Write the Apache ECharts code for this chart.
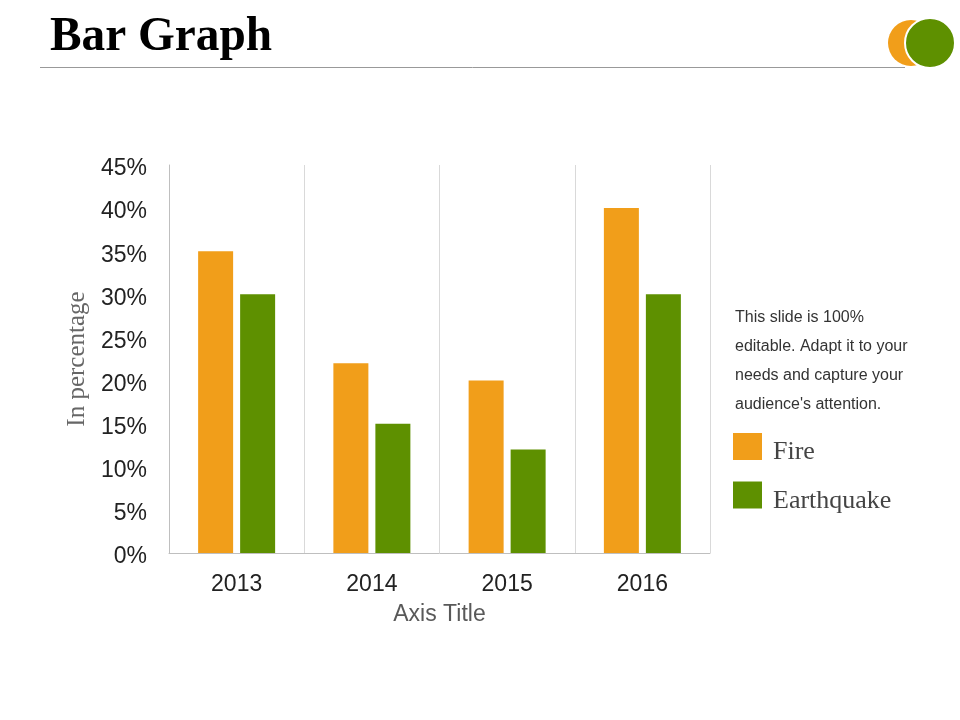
<!DOCTYPE html>
<html><head><meta charset="utf-8">
<script src="https://cdn.jsdelivr.net/npm/echarts@6/dist/echarts.min.js"></script>
<style>html,body{margin:0;padding:0;background:#fff}#c{width:960px;height:720px}</style>
</head><body><div id="c"></div>
<script>
const categories = ['2013', '2014', '2015', '2016'];
const fireValues = [35, 22, 20, 40];
const quakeValues = [30, 15, 12, 30];
const seriesNames = ['Fire', 'Earthquake'];
const titleText = 'Bar Graph';
const noteLines = ['This slide is 100%', 'editable. Adapt it to your', 'needs and capture your', "audience's attention."];

const chart = echarts.init(document.getElementById('c'));
const graphics = [
  {type:'text', x:50, y:14, scaleX:0.985, style:{text:titleText, font:'bold 48px "Liberation Serif", "DejaVu Serif", serif', fill:'#000'}},
  {type:'line', shape:{x1:40, y1:67.5, x2:905, y2:67.5}, style:{stroke:'#999', lineWidth:1}},
  {type:'circle', shape:{cx:911, cy:43, r:23}, style:{fill:'#F19E1A'}},
  {type:'circle', shape:{cx:930, cy:43, r:25}, style:{fill:'#5E9000', stroke:'#fff', lineWidth:2}}
];
noteLines.forEach((t, i) => {
  graphics.push({type:'text', left:735, top:310 + i*29, style:{text:t, font:'16px "Liberation Sans", Arial, sans-serif', fill:'#333'}});
});
const serif = '"Liberation Serif", "DejaVu Serif", serif';
chart.setOption({
  animation:false,
  graphic: graphics,
  legend:{
    orient:'vertical', left:733, top:433, padding:0, itemWidth:29, itemHeight:27, itemGap:16,
    icon:'rect',
    formatter: name => '{n|' + name + '}',
    textStyle:{
      fontFamily:serif, fontSize:26, color:'#444',
      rich:{n:{fontFamily:serif, fontSize:26, color:'#444', padding:[12,0,0,6]}}
    },
    data: seriesNames
  },
  grid:{left:169, right:250, top:165, bottom:167},
  xAxis:{
    type:'category', data:categories,
    axisLine:{lineStyle:{color:'#bfbfbf'}},
    axisTick:{show:false},
    splitLine:{show:true, lineStyle:{color:'#d9d9d9'}},
    axisLabel:{fontFamily:'"Liberation Sans", Arial, sans-serif', fontSize:23, color:'#222', margin:20},
    name:'Axis Title', nameLocation:'middle', nameGap:50,
    nameTextStyle:{fontFamily:'"Liberation Sans", Arial, sans-serif', fontSize:23, color:'#595959'}
  },
  yAxis:{
    type:'value', min:0, max:45, interval:5,
    axisLine:{show:true, lineStyle:{color:'#bfbfbf'}},
    axisTick:{show:false},
    splitLine:{show:false},
    axisLabel:{
      formatter: v => '{t|' + v + '%}',
      margin:22,
      rich:{t:{fontFamily:'"Liberation Sans", Arial, sans-serif', fontSize:23, color:'#222', padding:[8,0,0,0]}}
    },
    name:'In percentage', nameLocation:'middle', nameGap:62, nameRotate:90,
    nameTextStyle:{fontFamily:serif, fontSize:25, color:'#666'}
  },
  series:[
    {name:seriesNames[0], type:'bar', data:fireValues, barWidth:35, barGap:'20%', itemStyle:{color:'#F19E1A'}},
    {name:seriesNames[1], type:'bar', data:quakeValues, barWidth:35, barGap:'20%', itemStyle:{color:'#5E9000'}}
  ]
});
</script></body></html>
